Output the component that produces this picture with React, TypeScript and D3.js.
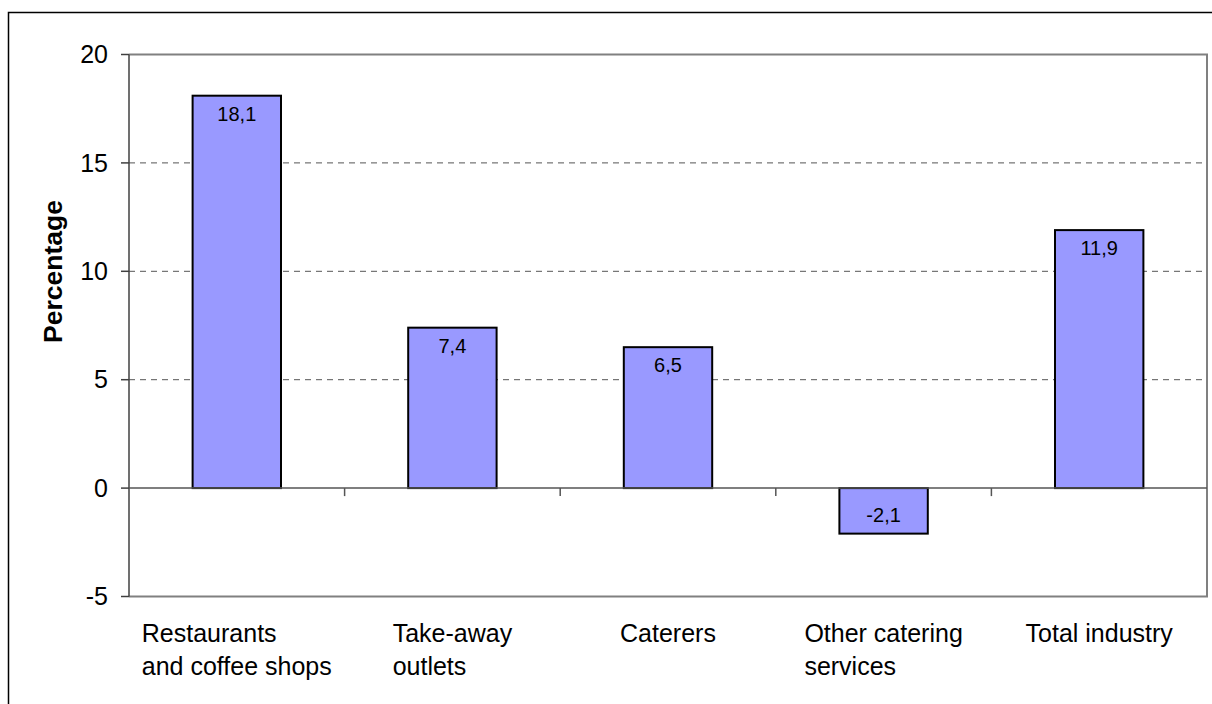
import React, { useEffect, useRef } from "react";
import * as d3 from "d3";

const categories = [
  ["Restaurants", "and coffee shops"],
  ["Take-away", "outlets"],
  ["Caterers"],
  ["Other catering", "services"],
  ["Total industry"],
];
const values = [18.1, 7.4, 6.5, -2.1, 11.9];
const yTicks = [-5, 0, 5, 10, 15, 20];
const gridValues = [5, 10, 15];
const yLabel = "Percentage";

const W = 1212;
const H = 704;
const FONT = "'Liberation Sans', Arial, Helvetica, sans-serif";

export default function App() {
  const ref = useRef<SVGSVGElement>(null);

  useEffect(() => {
    if (!ref.current) return;
    const svg = d3.select(ref.current);
    svg.selectAll("*").remove();

    const left = 129;
    const right = 1207;
    const top = 54.5;
    const bottom = 596.5;

    const x = d3
      .scaleBand<number>()
      .domain(values.map((_d, i) => i))
      .range([left, right])
      .paddingInner(0.59)
      .paddingOuter(0.295);
    const step = x.step();
    const y = d3.scaleLinear().domain([-5, 20]).range([bottom, top]);

    // outer frame
    svg
      .append("rect")
      .attr("x", 8.5)
      .attr("y", 12.5)
      .attr("width", 1240)
      .attr("height", 740)
      .attr("fill", "white")
      .attr("stroke", "#000")
      .attr("stroke-width", 1.5);

    // dashed gridlines
    svg
      .append("g")
      .selectAll("line")
      .data(gridValues)
      .join("line")
      .attr("x1", left)
      .attr("x2", right)
      .attr("y1", (d) => y(d))
      .attr("y2", (d) => y(d))
      .attr("stroke", "#555")
      .attr("stroke-width", 1)
      .attr("stroke-dasharray", "6,5");

    // plot border top / right / bottom
    svg
      .append("path")
      .attr("d", `M${left},${y(20)}H${right}V${y(-5)}H${left}`)
      .attr("fill", "none")
      .attr("stroke", "#808080")
      .attr("stroke-width", 2);

    // y axis
    const yAxis = svg.append("g");
    yAxis
      .append("line")
      .attr("x1", left)
      .attr("x2", left)
      .attr("y1", y(20))
      .attr("y2", y(-5))
      .attr("stroke", "#404040")
      .attr("stroke-width", 1.5);
    yAxis
      .selectAll("line.tick")
      .data(yTicks)
      .join("line")
      .attr("class", "tick")
      .attr("x1", left - 8)
      .attr("x2", left)
      .attr("y1", (d) => y(d))
      .attr("y2", (d) => y(d))
      .attr("stroke", "#404040")
      .attr("stroke-width", 1.5);
    yAxis
      .selectAll("text")
      .data(yTicks)
      .join("text")
      .attr("x", 108)
      .attr("y", (d) => y(d))
      .attr("dy", "0.35em")
      .attr("text-anchor", "end")
      .attr("font-family", FONT)
      .attr("font-size", 25)
      .attr("fill", "#000")
      .text((d) => String(d));

    svg
      .append("text")
      .attr("transform", `translate(62,${(y(20) + y(-5)) / 2 - 54}) rotate(-90)`)
      .attr("text-anchor", "middle")
      .attr("font-family", FONT)
      .attr("font-size", 26.5)
      .attr("font-weight", "bold")
      .text(yLabel);

    // bars
    svg
      .append("g")
      .selectAll("rect")
      .data(values)
      .join("rect")
      .attr("x", (_d, i) => x(i)!)
      .attr("width", x.bandwidth())
      .attr("y", (d) => y(Math.max(0, d)))
      .attr("height", (d) => Math.abs(y(d) - y(0)))
      .attr("fill", "#9999FF")
      .attr("stroke", "#000")
      .attr("stroke-width", 2);

    // zero line with category ticks
    svg
      .append("line")
      .attr("x1", left)
      .attr("x2", right)
      .attr("y1", y(0))
      .attr("y2", y(0))
      .attr("stroke", "#555")
      .attr("stroke-width", 1.5);
    svg
      .append("g")
      .selectAll("line")
      .data(d3.range(1, values.length))
      .join("line")
      .attr("x1", (i) => left + i * step)
      .attr("x2", (i) => left + i * step)
      .attr("y1", y(0))
      .attr("y2", y(0) + 8)
      .attr("stroke", "#555")
      .attr("stroke-width", 1.5);

    // value labels
    svg
      .append("g")
      .selectAll("text")
      .data(values)
      .join("text")
      .attr("x", (_d, i) => x(i)! + x.bandwidth() / 2)
      .attr("y", (d) => (d >= 0 ? y(d) + 25 : y(d) - 12))
      .attr("text-anchor", "middle")
      .attr("font-family", FONT)
      .attr("font-size", 20)
      .attr("fill", "#000")
      .text((d) => d.toFixed(1).replace(".", ","));

    // category labels (lines left aligned, block centred)
    const catG = svg.append("g");
    categories.forEach((lines, i) => {
      const cx = x(i)! + x.bandwidth() / 2;
      const t = catG
        .append("text")
        .attr("font-family", FONT)
        .attr("font-size", 25)
        .attr("fill", "#000");
      lines.forEach((ln, j) => {
        t.append("tspan").attr("y", 641.5 + j * 33.5).text(ln);
      });
      const widths = (t.selectAll("tspan").nodes() as SVGTSpanElement[]).map(
        (n) => n.getComputedTextLength()
      );
      const bw = Math.max(...widths);
      t.selectAll("tspan").attr("x", cx - bw / 2);
    });
  }, []);

  return (
    <div style={{ position: "absolute", left: 0, top: 0 }}>
      <svg ref={ref} width={W} height={H} style={{ display: "block" }} />
    </div>
  );
}
